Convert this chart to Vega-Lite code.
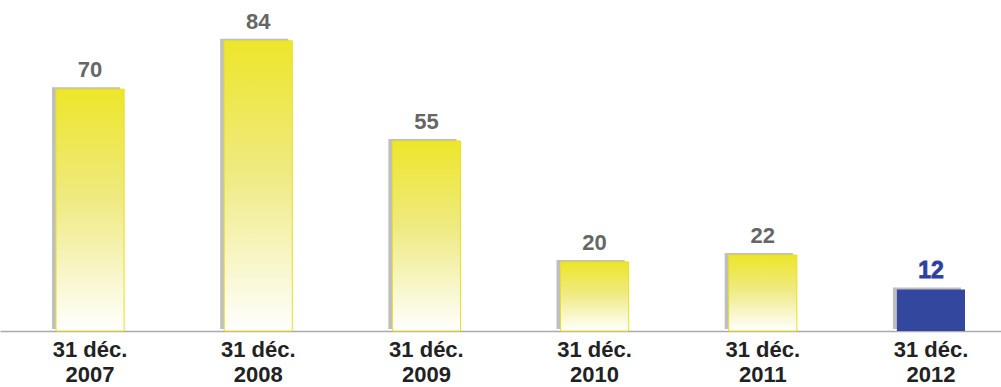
{
  "$schema": "https://vega.github.io/schema/vega-lite/v6.json",
  "width": 1001,
  "height": 331,
  "autosize": {"type": "none"},
  "padding": {"left": 0, "top": 0, "right": 0, "bottom": 56},
  "background": "white",
  "config": {"view": {"stroke": null}, "font": "Liberation Sans"},
  "data": {
    "values": [
      {"date": "31 déc.|2007", "value": 70},
      {"date": "31 déc.|2008", "value": 84},
      {"date": "31 déc.|2009", "value": 55},
      {"date": "31 déc.|2010", "value": 20},
      {"date": "31 déc.|2011", "value": 22},
      {"date": "31 déc.|2012", "value": 12}
    ]
  },
  "encoding": {
    "x": {
      "field": "date",
      "type": "ordinal",
      "sort": null,
      "scale": {"range": [0, 1021], "paddingInner": 0.595, "paddingOuter": 0.333},
      "axis": {
        "title": null,
        "labelAngle": 0,
        "ticks": false,
        "labelExpr": "split(datum.label, '|')",
        "labelFontSize": 22,
        "labelFontWeight": "bold",
        "labelColor": "#222222",
        "labelLineHeight": 25,
        "labelPadding": 8,
        "domainColor": "#aaaaaa",
        "domainWidth": 1.5,
        "grid": false
      }
    },
    "y": {
      "field": "value",
      "type": "quantitative",
      "scale": {"domain": [0, 95.8]},
      "axis": null
    }
  },
  "layer": [
    {
      "mark": {"type": "bar", "xOffset": -4, "yOffset": -2, "fill": "#8a8a8a", "opacity": 0.55}
    },
    {
      "transform": [{"filter": "datum.value != 12"}],
      "mark": {
        "type": "bar",
        "stroke": "#e8e020",
        "strokeWidth": 1,
        "fill": {
          "gradient": "linear",
          "x1": 0, "y1": 0, "x2": 0, "y2": 1,
          "stops": [
            {"offset": 0, "color": "#ede62a"},
            {"offset": 0.45, "color": "#efea80"},
            {"offset": 1, "color": "#ffffff"}
          ]
        }
      }
    },
    {
      "transform": [{"filter": "datum.value == 12"}],
      "mark": {"type": "bar", "fill": "#34479e"}
    },
    {
      "transform": [{"filter": "datum.value != 12"}],
      "mark": {"type": "text", "dy": -12, "baseline": "alphabetic", "fontSize": 22, "fontWeight": "bold", "fill": "#666666"},
      "encoding": {"text": {"field": "value", "type": "quantitative"}}
    },
    {
      "transform": [{"filter": "datum.value == 12"}],
      "mark": {"type": "text", "dy": -12, "baseline": "alphabetic", "fontSize": 23, "fontWeight": 900, "fill": "#2e3f9c", "stroke": "#2e3f9c", "strokeWidth": 0.8},
      "encoding": {"text": {"field": "value", "type": "quantitative"}}
    }
  ]
}
